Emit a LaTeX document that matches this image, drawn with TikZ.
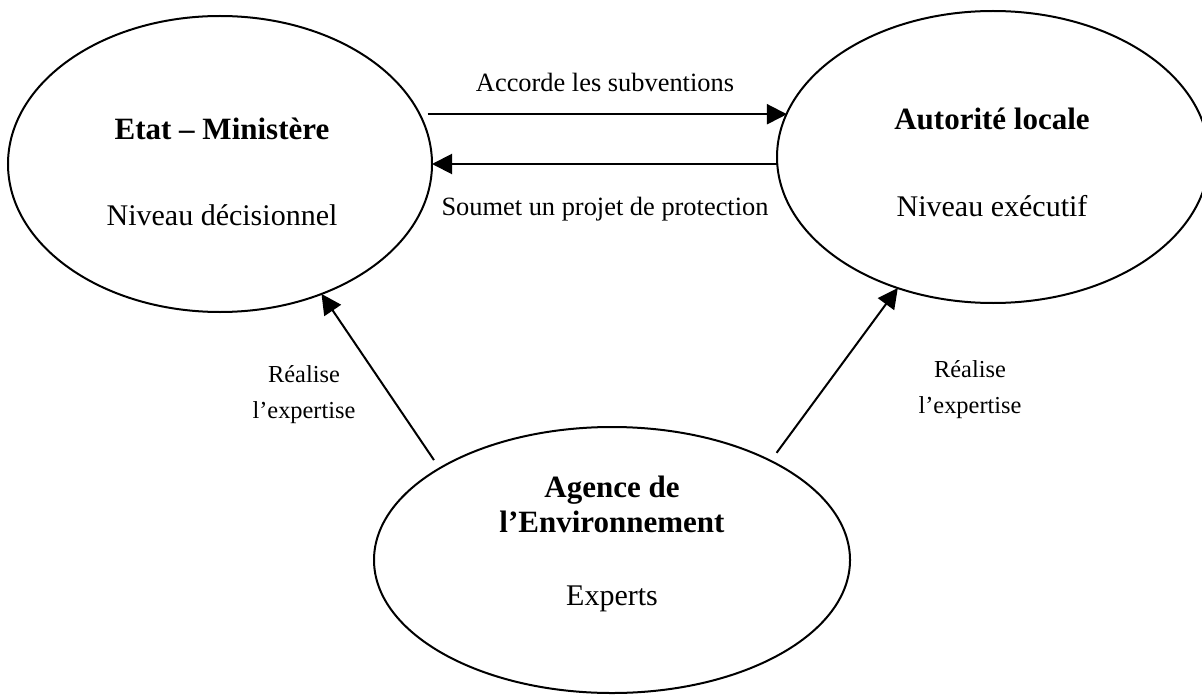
\documentclass[tikz,border=0pt]{standalone}
\usepackage{fontspec}
\setmainfont{Liberation Serif}
\usetikzlibrary{shapes.geometric,arrows.meta}

\begin{document}
\begin{tikzpicture}
		[x=0.5pt,y=-0.5pt,line width=1pt]
		\tikzstyle{acteur}=[ellipse, draw, inner sep=0pt, outer sep=0pt]
		\tikzstyle{titre}=[anchor=base, inner sep=0pt, font=\fontsize{15.5}{18}\selectfont\bfseries]
		\tikzstyle{niveau}=[anchor=base, inner sep=0pt, font=\fontsize{15}{18}\selectfont]
		\tikzstyle{lien}=[anchor=base, inner sep=0pt, font=\fontsize{13.2}{16}\selectfont]
		\tikzstyle{expertise}=[anchor=base, inner sep=0pt, font=\fontsize{12.2}{15}\selectfont]
		\tikzstyle{fleche}=[-{Triangle[length=10pt,width=10pt]}]
		\useasboundingbox (0,0) rectangle (1202,695);
		%-----ellipses
		\node[acteur, minimum width=212pt, minimum height=148pt] (etat) at (220,164) {};
		\node[acteur, minimum width=216pt, minimum height=146pt] (aut) at (993,157) {};
		\node[acteur, minimum width=238pt, minimum height=133pt] (agence) at (612,560) {};
		%-----textes
		\node[titre]  (etatT) at (222,140) {Etat – Ministère};
		\node[niveau] (etatN) at (222,225) {Niveau décisionnel};
		\node[titre]  (autT) at (992,130) {Autorité locale};
		\node[niveau] (autN) at (992,216) {Niveau exécutif};
		\node[titre]  (agT1) at (612,497) {Agence de};
		\node[titre]  (agT2) at (612,532) {l’Environnement};
		\node[niveau] (agN) at (612,605) {Experts};
		\node[lien] (accorde) at (605,92) {Accorde les subventions};
		\node[lien] (soumet) at (605,215) {Soumet un projet de protection};
		\node[expertise] (re1) at (304,382) {Réalise};
		\node[expertise] (ex1) at (304,418) {l’expertise};
		\node[expertise] (re2) at (970,377) {Réalise};
		\node[expertise] (ex2) at (970,413) {l’expertise};
		%-----fleches
		\draw[fleche] ([xshift=4pt]etat.14) -- (aut.168 |- etat.14);
		\draw[fleche] (aut.west |- etat.east) -- (etat.east);
		\draw[fleche, shorten <=5pt] (agence.152) -- (etat.-52);
		\draw[fleche, shorten <=5pt] (agence.32) -- (aut.234);
\end{tikzpicture}
\end{document}
